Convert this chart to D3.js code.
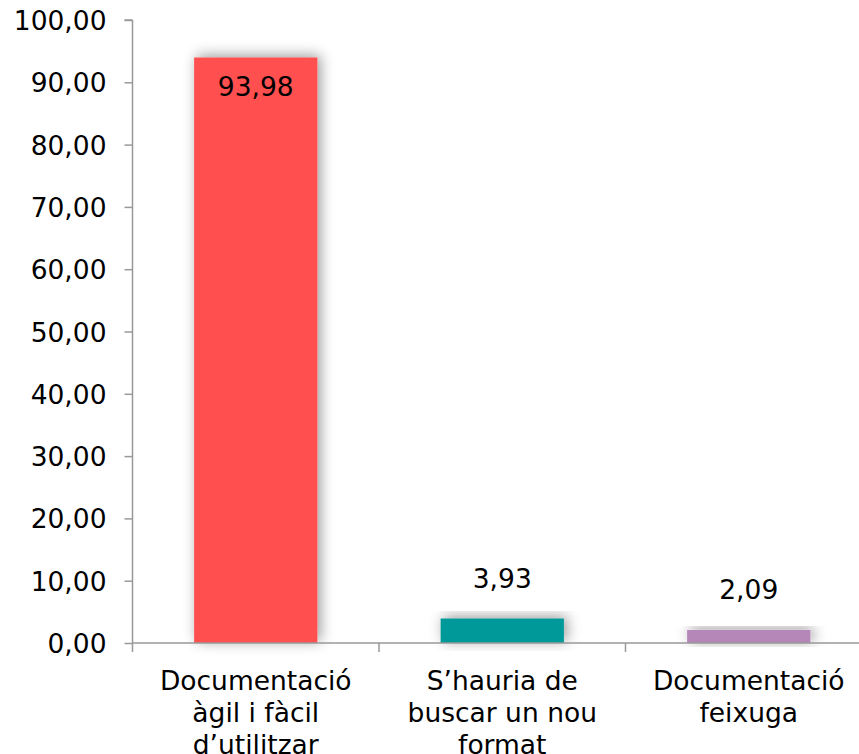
<!DOCTYPE html>
<html><head><meta charset="utf-8">
<script src="https://cdn.jsdelivr.net/npm/d3@7"></script>
<style>body{margin:0;background:#fff}svg{display:block}text{font-family:"DejaVu Sans",Verdana,sans-serif;fill:#000}</style>
</head><body>
<script>
const categories = [["Documentació","àgil i fàcil","d’utilitzar"],["S’hauria de","buscar un nou","format"],["Documentació","feixuga"]];
const values = [93.98, 3.93, 2.09];
const valueLabels = ["93,98","3,93","2,09"];
const colors = ["#FF4F4F","#009999","#B487B8"];
const yTicks = [0,10,20,30,40,50,60,70,80,90,100];

const W = 859, H = 754;
const svg = d3.select("body").append("svg").attr("width", W).attr("height", H);
const defs = svg.append("defs");
const f = defs.append("filter").attr("id","sh").attr("x","-30%").attr("y","-30%").attr("width","160%").attr("height","160%");
f.append("feDropShadow").attr("dx",3).attr("dy",-2).attr("stdDeviation",7).attr("flood-color","#000").attr("flood-opacity",0.4);

const x0 = 132.5, bandW = 246.5;
const x = d3.scaleBand().domain(d3.range(3)).range([x0, x0 + 3*bandW]).paddingInner(0.5).paddingOuter(0.25);
const y = d3.scaleLinear().domain([0,100]).range([643, 20]);
const FS = 26.5;

// bars
svg.selectAll("rect.bar").data(values).join("rect").attr("class","bar")
  .attr("x",(d,i)=>x(i)).attr("width",x.bandwidth())
  .attr("y",d=>y(d)).attr("height",d=>y(0)-y(d))
  .attr("fill",(d,i)=>colors[i]).attr("filter","url(#sh)");

// y axis
const ya = svg.append("g").attr("transform",`translate(${x0},0)`)
  .call(d3.axisLeft(y).tickValues(yTicks).tickSize(8).tickPadding(18).tickFormat(d=>d3.format(".2f")(d).replace(".",",")));
ya.select(".domain").attr("stroke","#999").attr("stroke-width",1.5).attr("d",`M0,${y(100)}H-8M0,${y(100)}V${y(0)}`);
ya.selectAll(".tick line").attr("stroke","#999").attr("stroke-width",1.5);
ya.selectAll(".tick text").attr("font-size",FS).attr("dy","0.36em").style("font-family",'"DejaVu Sans",Verdana,sans-serif');

// x axis
const xa = svg.append("g").attr("transform",`translate(0,${y(0)})`);
xa.append("line").attr("x1",x0).attr("x2",x0+3*bandW).attr("stroke","#999").attr("stroke-width",1.5);
xa.selectAll("line.t").data(d3.range(4)).join("line").attr("class","t")
  .attr("x1",d=>x0+d*bandW).attr("x2",d=>x0+d*bandW).attr("y1",0).attr("y2",9)
  .attr("stroke","#999").attr("stroke-width",1.5);
xa.selectAll("text.cat").data(categories).join("text").attr("class","cat")
  .attr("text-anchor","middle").attr("font-size",FS)
  .attr("transform",(d,i)=>`translate(${x(i)+x.bandwidth()/2},47)`)
  .selectAll("tspan").data(d=>d).join("tspan").attr("x",0).attr("y",(d,j)=>j*32).text(d=>d);

// value labels
svg.selectAll("text.val").data(values).join("text").attr("class","val")
  .attr("text-anchor","middle").attr("font-size",FS)
  .attr("x",(d,i)=>x(i)+x.bandwidth()/2)
  .attr("y",d=> d > 50 ? y(d)+38 : y(d)-31)
  .text((d,i)=>valueLabels[i]);
</script>
</body></html>
